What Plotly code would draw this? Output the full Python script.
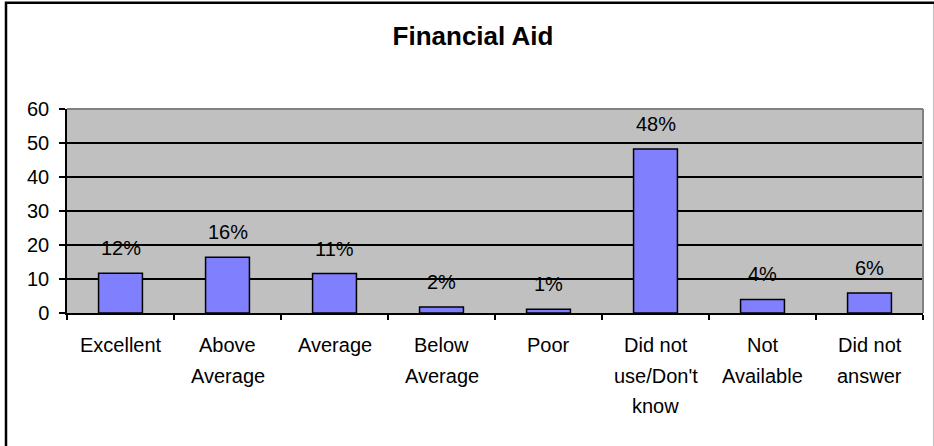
import plotly.graph_objects as go

categories = ["Excellent", "Above Average", "Average", "Below Average", "Poor",
              "Did not use/Don't know", "Not Available", "Did not answer"]
tick_labels = ["Excellent", "Above<br>Average", "Average", "Below<br>Average", "Poor",
               "Did not<br>use/Don't<br>know", "Not<br>Available", "Did not<br>answer"]
values = [11.7, 16.4, 11.6, 1.8, 1.1, 48.2, 4.0, 5.9]
value_labels = ["12%", "16%", "11%", "2%", "1%", "48%", "4%", "6%"]
y_ticks = [0, 10, 20, 30, 40, 50, 60]

FONT = "Liberation Sans, Arial, sans-serif"

fig = go.Figure()
fig.add_trace(go.Bar(
    x=categories, y=values,
    marker=dict(color="#8080FF", line=dict(color="black", width=1.5)),
    hoverinfo="skip",
))

for c, v, t in zip(categories, values, value_labels):
    fig.add_annotation(x=c, y=v, text=t, showarrow=False, yanchor="middle",
                       yshift=25, font=dict(family=FONT, size=20, color="black"))

# category labels, one annotation per line (Excel-like wide line spacing)
for c, lab in zip(categories, tick_labels):
    for i, line in enumerate(lab.split("<br>")):
        fig.add_annotation(x=c, y=0, text=line, showarrow=False, yanchor="middle",
                           yshift=-(32 + 30.5 * i),
                           font=dict(family=FONT, size=20, color="black"))

# plot-area border (top and right, gray)
fig.add_shape(type="line", xref="paper", yref="paper", x0=0, x1=1, y0=1, y1=1,
              line=dict(color="#808080", width=2), layer="above")
fig.add_shape(type="line", xref="paper", yref="paper", x0=1, x1=1, y0=0, y1=1,
              line=dict(color="#808080", width=2), layer="above")
# outer chart border (right and bottom sides fall just outside the picture)
fig.add_shape(type="rect", xref="paper", yref="paper",
              x0=(6 - 67) / 856, x1=(935 - 67) / 856, y0=-0.9, y1=(312.7 - 2.5) / 204,
              line=dict(color="black", width=2.5), fillcolor="rgba(0,0,0,0)", layer="above")

fig.update_layout(
    width=934, height=446,
    margin=dict(l=67, r=11, t=109, b=133),
    paper_bgcolor="white", plot_bgcolor="#C0C0C0",
    bargap=0.59, showlegend=False,
    font=dict(family=FONT, size=20, color="black"),
    title=dict(text="<b>Financial Aid</b>", x=473 / 934, xanchor="center",
               y=1 - 36 / 446, yanchor="middle", yref="container",
               font=dict(family=FONT, size=26, color="black")),
    xaxis=dict(tickvals=categories, showticklabels=False, tickson="boundaries",
               ticks="outside", ticklen=5, tickwidth=1.5, tickcolor="black",
               showline=True, linecolor="black", linewidth=1.5, showgrid=False),
    yaxis=dict(range=[0, 60], tickvals=y_ticks, ticks="outside", ticklen=6, tickwidth=1.5,
               tickcolor="black", showline=True, linecolor="black", linewidth=1.5,
               showgrid=True, gridcolor="black", gridwidth=1.5, zeroline=False,
               tickfont=dict(family=FONT, size=20, color="black"), ticklabelstandoff=6),
)

fig.write_html("out.html", config={"displayModeBar": False},
               post_script="document.body.style.margin='0px';document.body.style.overflow='hidden';")
